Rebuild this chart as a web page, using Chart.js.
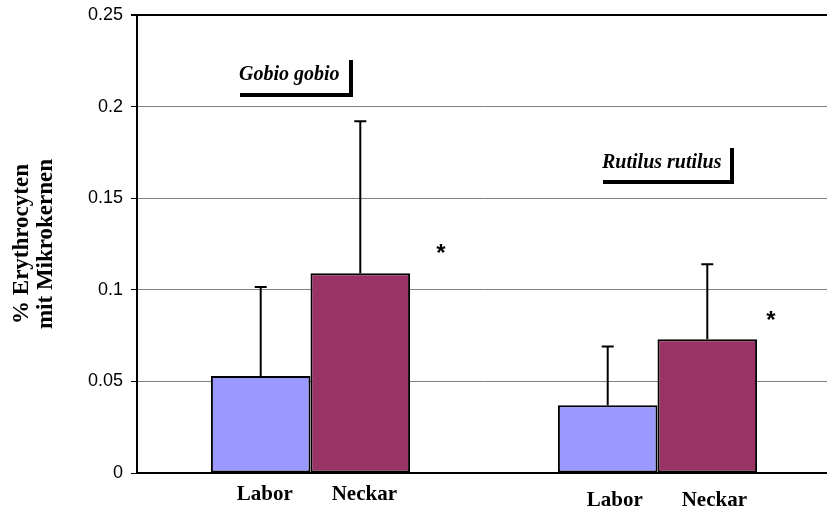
<!DOCTYPE html>
<html>
<head>
<meta charset="utf-8">
<style>
  html, body { margin: 0; padding: 0; background: #fff; overflow: hidden; }
  canvas { display: block; }
</style>
<script src="https://cdn.jsdelivr.net/npm/chart.js@4.4.1/dist/chart.umd.min.js"></script>
</head>
<body>
<canvas id="chart" width="841" height="510"></canvas>
<script>
// Fish species groups and sampling sites
const species = ["Gobio gobio", "Rutilus rutilus"];
const sites = ["Labor", "Neckar"];

// Mean % erythrocytes with micronuclei, per species
const laborMeans = [0.053, 0.037];
const neckarMeans = [0.109, 0.073];

// Standard deviations (upper error bars)
const laborSD = [0.0485, 0.032];
const neckarSD = [0.083, 0.041];

// Y axis ticks
const yTicks = [0, 0.05, 0.1, 0.15, 0.2, 0.25];

const serif = '"Liberation Serif", "Times New Roman", serif';
const sans = '"Liberation Sans", Arial, sans-serif';

// Upper error bars drawn on top of each bar
const errorBars = {
  id: 'errorBars',
  afterDatasetsDraw(chart) {
    const ctx = chart.ctx;
    const yScale = chart.scales.y;
    const sds = [laborSD, neckarSD];
    chart.data.datasets.forEach((ds, di) => {
      const meta = chart.getDatasetMeta(di);
      meta.data.forEach((bar, i) => {
        const top = yScale.getPixelForValue(ds.data[i] + sds[di][i]);
        ctx.save();
        ctx.strokeStyle = '#000';
        ctx.lineWidth = 2;
        ctx.beginPath();
        ctx.moveTo(bar.x, bar.y);
        ctx.lineTo(bar.x, top);
        ctx.moveTo(bar.x - 6, top);
        ctx.lineTo(bar.x + 6, top);
        ctx.stroke();
        ctx.restore();
      });
    });
  }
};

// Axis title, site labels, species boxes and significance marks
const annotations = {
  id: 'annotations',
  afterDraw(chart) {
    const ctx = chart.ctx;
    ctx.save();
    ctx.fillStyle = '#000';

    // rotated two-line y axis title
    ctx.save();
    ctx.translate(33, 244);
    ctx.rotate(-Math.PI / 2);
    ctx.font = 'bold 23px ' + serif;
    ctx.textAlign = 'center';
    ctx.textBaseline = 'middle';
    ctx.fillText('% Erythrocyten', 0, -11);
    ctx.fillText('mit Mikrokernen', 0, 13);
    ctx.restore();

    // site labels under each bar
    ctx.font = 'bold 21px ' + serif;
    ctx.textAlign = 'center';
    ctx.textBaseline = 'middle';
    const labelY = [495, 501];
    const labelDx = [4, 7];
    chart.data.datasets.forEach((ds, di) => {
      chart.getDatasetMeta(di).data.forEach((bar, i) => {
        ctx.fillText(sites[di], bar.x + labelDx[i], labelY[i]);
      });
    });

    // species names with corner frame
    ctx.font = 'bold italic 20px ' + serif;
    ctx.textAlign = 'left';
    ctx.textBaseline = 'alphabetic';
    const boxes = [
      { text: species[0], x: 239, y: 80, right: 353, bottom: 97, topY: 60 },
      { text: species[1], x: 602, y: 168, right: 734, bottom: 184, topY: 148 }
    ];
    boxes.forEach(b => {
      ctx.fillText(b.text, b.x, b.y);
      ctx.fillRect(b.x + 1, b.bottom - 4, b.right - b.x - 1, 4);
      ctx.fillRect(b.right - 4, b.topY, 4, b.bottom - b.topY);
    });

    // significance marks
    ctx.font = 'bold 24px ' + sans;
    ctx.textAlign = 'center';
    ctx.textBaseline = 'middle';
    ctx.fillText('*', 441, 254);
    ctx.fillText('*', 771, 321);

    ctx.restore();
  }
};

new Chart(document.getElementById('chart'), {
  type: 'bar',
  data: {
    labels: species,
    datasets: [
      {
        label: sites[0],
        data: laborMeans,
        backgroundColor: '#9999FF',
        borderColor: '#000',
        borderWidth: 2,
        borderSkipped: false
      },
      {
        label: sites[1],
        data: neckarMeans,
        backgroundColor: '#993366',
        borderColor: '#000',
        borderWidth: 2,
        borderSkipped: false
      }
    ]
  },
  options: {
    responsive: false,
    animation: false,
    layout: { padding: { top: 15, right: 10, bottom: 0, left: 0 } },
    plugins: {
      legend: { display: false },
      tooltip: { enabled: false }
    },
    datasets: {
      bar: { categoryPercentage: 0.574, barPercentage: 1.0 }
    },
    scales: {
      x: {
        grid: { display: false },
        border: { display: true, color: '#000', width: 2 },
        ticks: { display: false },
        afterFit(scale) { scale.height = 37; }
      },
      y: {
        min: 0,
        max: 0.25,
        afterBuildTicks(scale) { scale.ticks = yTicks.map(v => ({ value: v })); },
        ticks: {
          color: '#000',
          font: { family: sans, size: 18 },
          padding: 8,
          callback: v => String(Number(v.toFixed(2)))
        },
        grid: {
          color: ctx => (ctx.tick && ctx.tick.value === 0.25 ? '#000' : '#808080'),
          lineWidth: ctx => (ctx.tick && ctx.tick.value === 0.25 ? 2 : 1),
          tickColor: '#000',
          tickLength: 6,
          drawTicks: true
        },
        border: { display: true, color: '#000', width: 2 },
        afterFit(scale) {
          scale.width = 137;
          scale.paddingTop = 0;
          scale.paddingBottom = 0;
        }
      }
    }
  },
  plugins: [errorBars, annotations]
});
</script>
</body>
</html>
